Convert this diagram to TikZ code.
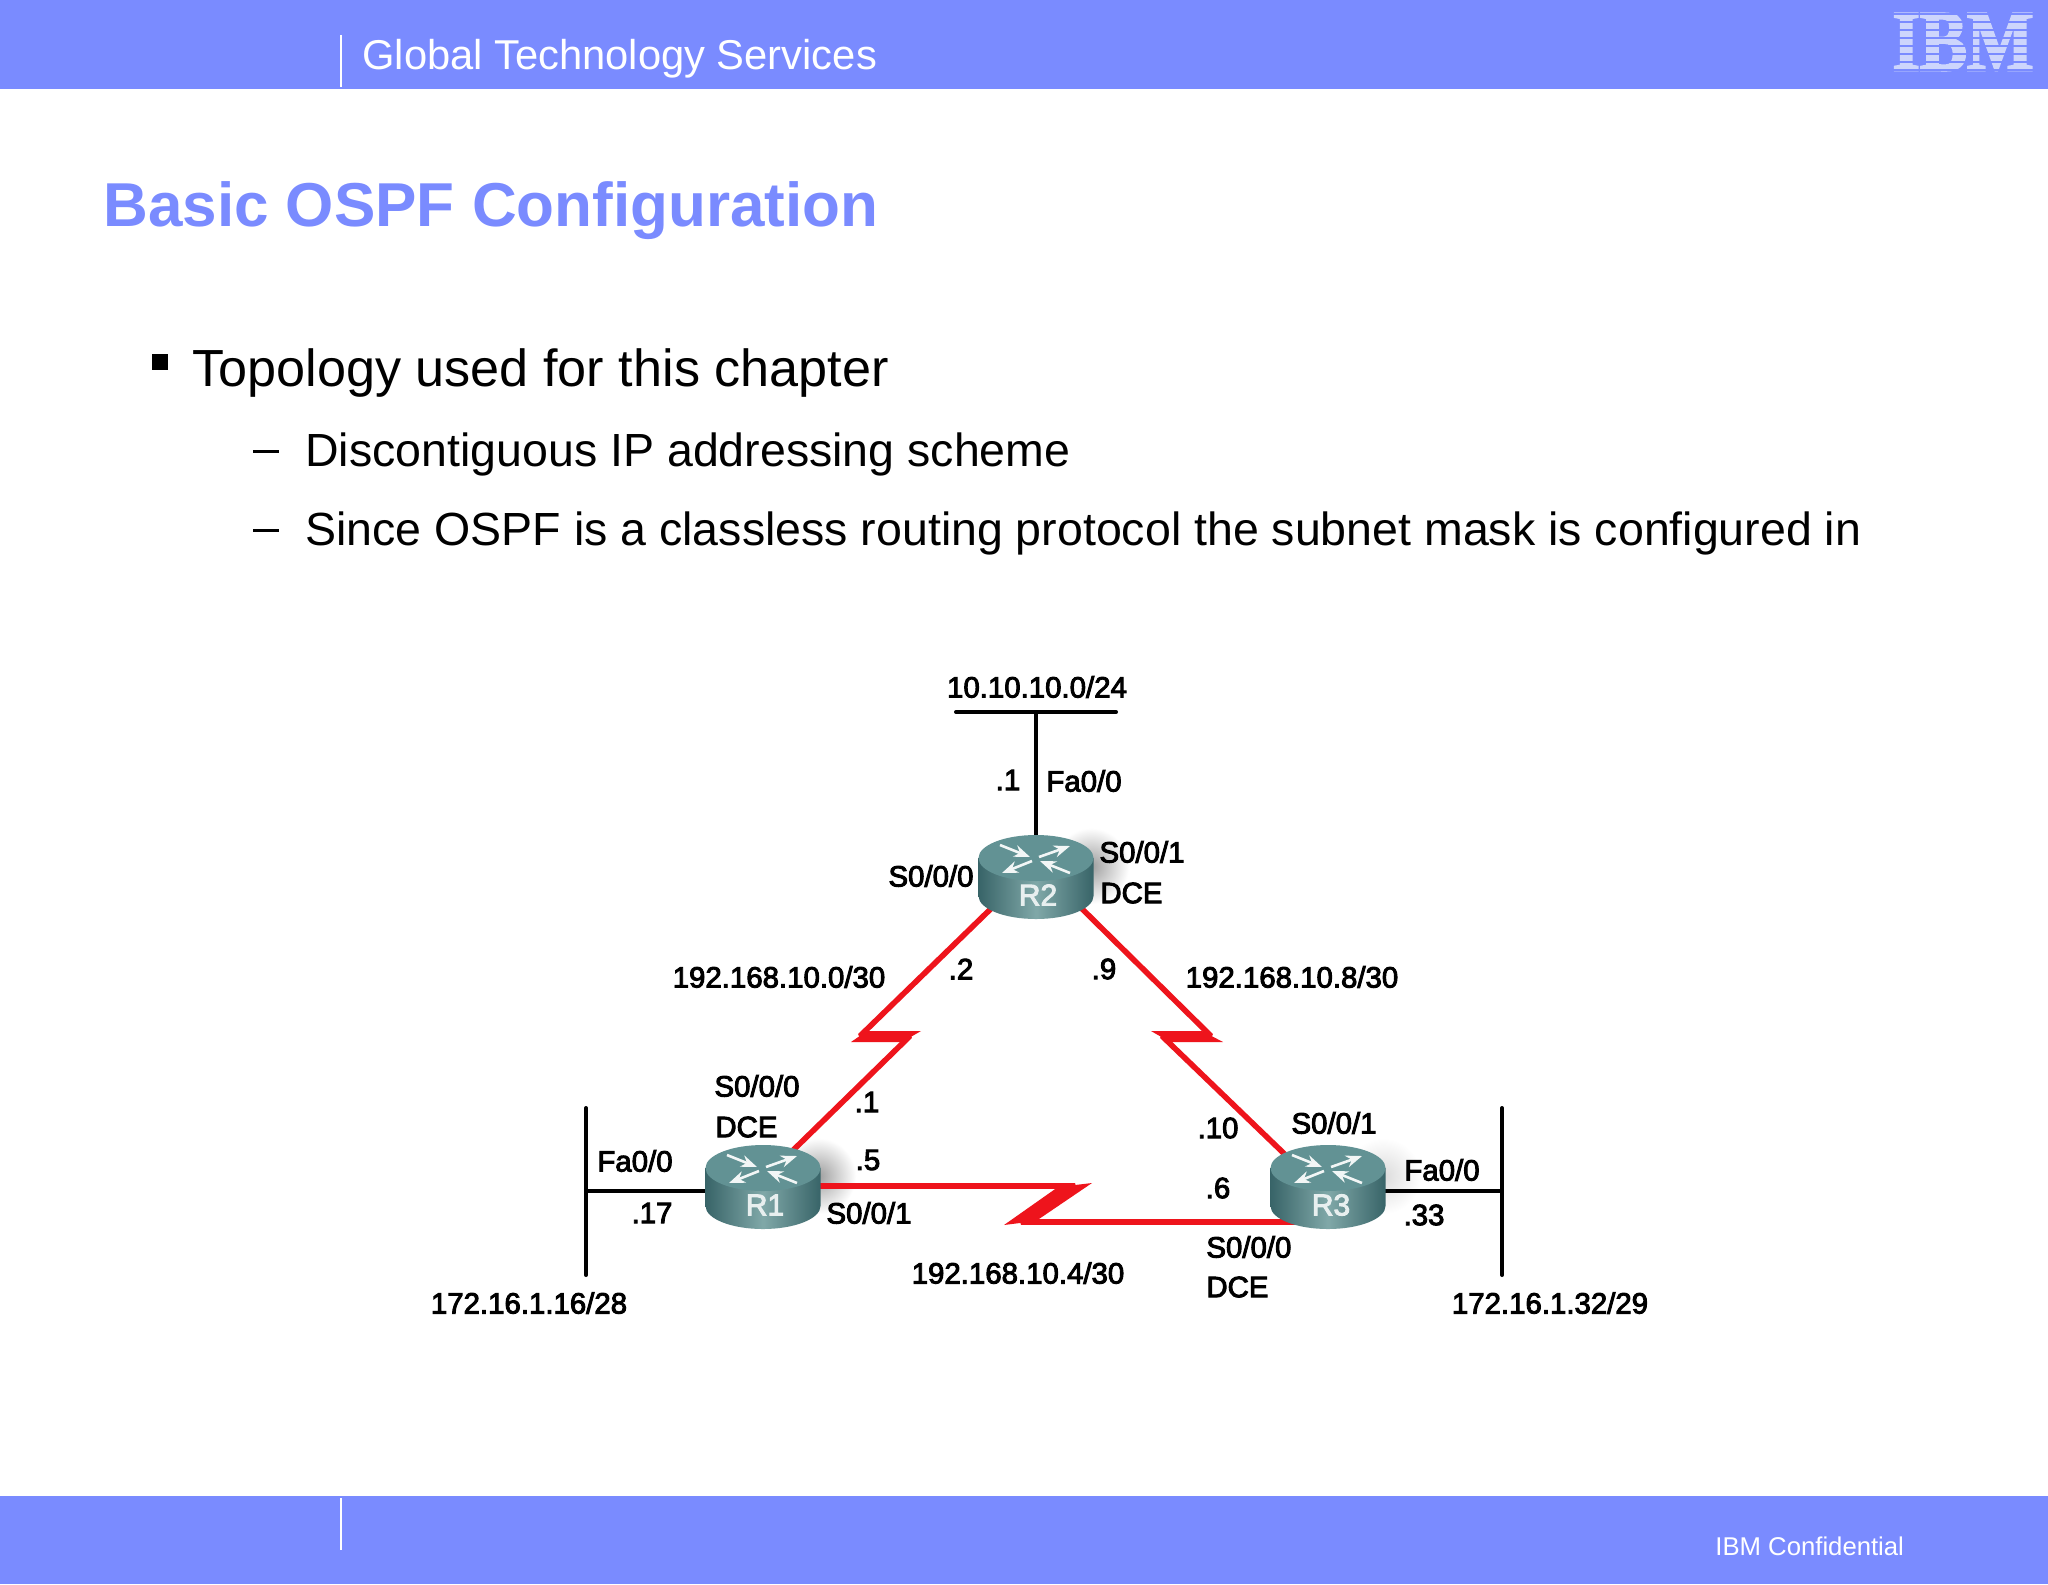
\documentclass[tikz,border=0pt]{standalone}
\usepackage{fontspec}
\setmainfont{Liberation Sans}
\newfontfamily\netfont[FakeBold=3.2]{Liberation Sans}
\newfontfamily\logofont[UprightFont=* Bold,FakeBold=3]{Liberation Serif}
\usetikzlibrary{positioning,arrows.meta}
\definecolor{bandblue}{RGB}{122,139,255}
\definecolor{logoblue}{RGB}{205,213,252}
\definecolor{routertop}{RGB}{98,146,148}
\definecolor{routerdark}{RGB}{56,100,104}
\definecolor{routermid}{RGB}{128,168,168}
\definecolor{linkred}{RGB}{238,20,28}
\tikzset{
  x=0.5pt,y=-0.5pt,
  band/.style={fill=bandblue,draw=none},
  bandrule/.style={draw=white,line width=0.9pt},
  bodytext/.style={inner sep=0,anchor=base west,text=black},
  netlabel/.style={inner sep=0,font=\netfont\fontsize{14.7}{16}\selectfont,text=black},
  netleft/.style={netlabel,anchor=west},
  routername/.style={inner sep=0,text=white!85!routertop,font=\netfont\fontsize{15}{16}\selectfont},
  lanlink/.style={draw=black,line width=2.3pt},
  buswire/.style={draw=black,line width=2pt,line cap=round},
  seriallink/.style={draw=linkred,line width=2.8pt,line join=bevel},
  boltfill/.style={fill=linkred,draw=none},
  routerarrow/.style={draw=white!92!routertop,line width=1.3pt,-{Stealth[length=8pt,width=6pt]}},
}
% soft shadow beside a router
\newcommand{\routershadow}[3]{%
  \shade[inner color=black!#3,outer color=white,draw=none] (#1+55,#2+8) circle (38);}
% one router, centred on the top of the drum
\newcommand{\routerdrum}[2]{%
  \begin{scope}[shift={(#1,#2)}]
    \shade[left color=routerdark,right color=routerdark,middle color=routermid,draw=none]
      (-57.5,0) -- (-57.5,38) arc (180:0:57.5 and 23) -- (57.5,0) -- cycle;
    \fill[routertop] (0,0) ellipse (57.5 and 23);
    \draw[routerarrow] (-36,-13) -- (-6,-1);
    \draw[routerarrow] (3,-1) -- (34,-12);
    \draw[routerarrow] (-4,3) -- (-34,15);
    \draw[routerarrow] (34,15) -- (4,3);
  \end{scope}}
\begin{document}
\begin{tikzpicture}
  \useasboundingbox (0,0) rectangle (2048,1584);
  \fill[white] (0,0) rectangle (2048,1584);
  % bands
  \fill[band] (0,0) rectangle (2048,89);
  \fill[band] (0,1496) rectangle (2048,1584);
  \draw[bandrule] (341,35) -- (341,87);
  \draw[bandrule] (341,1498) -- (341,1550);
  \node[bodytext,text=white,font=\fontsize{20.85}{24}\selectfont] (header) at (362,69) {Global Technology Services};
  \node[bodytext,text=white,font=\fontsize{12.85}{15}\selectfont] (footer) at (1715,1555) {IBM Confidential};
  \node[inner sep=0,anchor=center,text=logoblue,xscale=0.82,font=\logofont\fontsize{43}{43}\selectfont] (logo) at (1963,42) {IBM};
  \foreach \s in {0,...,8} {
    \fill[bandblue] (1885,13+8*\s) rectangle (2040,15.5+8*\s);
  }
  % slide text
  \node[bodytext,text=bandblue,font=\bfseries\fontsize{31}{36}\selectfont] (title) at (103,226) {Basic OSPF Configuration};
  \fill[black] (152,354) rectangle (168,370);
  \node[bodytext,font=\fontsize{26.1}{30}\selectfont] (topic) at (192,386) {Topology used for this chapter};
  \fill[black] (253,450) rectangle (279,452.5);
  \node[bodytext,font=\fontsize{23.25}{26}\selectfont] (subone) at (305,466) {Discontiguous IP addressing scheme};
  \fill[black] (253,529) rectangle (279,531.5);
  \node[bodytext,font=\fontsize{23.25}{26}\selectfont] (subtwo) at (305,545) {Since OSPF is a classless routing protocol the subnet mask is configured in};
  % network
  \coordinate (R2top) at (1036,850);
  \coordinate (R2left) at (1005,895);
  \coordinate (R2right) at (1068,895);
  \coordinate (R1corner) at (780,1163);
  \coordinate (R1east) at (800,1186);
  \coordinate (R1west) at (720,1191);
  \coordinate (R3corner) at (1298,1167);
  \coordinate (R3south) at (1310,1222);
  \coordinate (R3east) at (1370,1191);
  \coordinate (busTopA) at (956,712);
  \coordinate (busTopB) at (1116,712);
  \coordinate (busTopM) at (1036,712);
  \coordinate (busLeftA) at (586,1108);
  \coordinate (busLeftB) at (586,1275);
  \coordinate (busLeftM) at (586,1191);
  \coordinate (busRightA) at (1502,1108);
  \coordinate (busRightB) at (1502,1275);
  \coordinate (busRightM) at (1502,1191);
  \routershadow{1036}{858}{38}
  \routershadow{763}{1168}{38}
  \routershadow{1328}{1168}{14}
  \draw[buswire] (busTopA) -- (busTopB);
  \draw[buswire] (busLeftA) -- (busLeftB);
  \draw[buswire] (busRightA) -- (busRightB);
  \draw[lanlink] (busTopM) -- (R2top);
  \draw[lanlink] (busLeftM) -- (R1west);
  \draw[lanlink] (busRightM) -- (R3east);
  % serial links with their bolts
  \draw[seriallink] (R2left) -- (860,1036) -- (910,1036) -- (R1corner);
  \fill[boltfill] (851,1042) -- (867,1031) -- (921,1031) -- (902,1042) -- cycle;
  \draw[seriallink] (R2right) -- (1211,1036) -- (1162,1036) -- (R3corner);
  \fill[boltfill] (1151,1031) -- (1202,1031) -- (1223,1042) -- (1170,1042) -- cycle;
  \draw[seriallink] (R1east) -- (1075,1186) -- (1021,1222) -- (R3south);
  \fill[boltfill] (1092,1183) -- (1036,1221) -- (1004,1225) -- (1058,1187) -- cycle;
  \routerdrum{1036}{858}
  \routerdrum{763}{1168}
  \routerdrum{1328}{1168}
  % labels
  \node[routername] (nameR2) at (1038,895) {R2};
  \node[routername] (nameR1) at (765,1205) {R1};
  \node[routername] (nameR3) at (1331,1205) {R3};
  \node[netlabel] (netTop) at (1037,687) {10.10.10.0/24};
  \node[netlabel] (netA) at (779,977) {192.168.10.0/30};
  \node[netlabel] (netB) at (1292,977) {192.168.10.8/30};
  \node[netlabel] (netC) at (1018,1273) {192.168.10.4/30};
  \node[netlabel] (netLeft) at (529,1303) {172.16.1.16/28};
  \node[netlabel] (netRight) at (1550,1303) {172.16.1.32/29};
  \node[netlabel] (r2host) at (1008,780) {.1};
  \node[netlabel] (r2fa) at (1084,781) {Fa0/0};
  \node[netlabel] (r2szero) at (931,876) {S0/0/0};
  \node[netlabel] (r2sone) at (1142,852) {S0/0/1};
  \node[netleft] (r2dce) at (1100,893) {DCE};
  \node[netlabel] (r2two) at (961,969) {.2};
  \node[netlabel] (r2nine) at (1104,969) {.9};
  \node[netlabel] (r1szero) at (757,1086) {S0/0/0};
  \node[netleft] (r1dce) at (715,1127) {DCE};
  \node[netlabel] (r1fa) at (635,1161) {Fa0/0};
  \node[netlabel] (r1host) at (652,1213) {.17};
  \node[netlabel] (r1one) at (867,1102) {.1};
  \node[netlabel] (r1five) at (868,1160) {.5};
  \node[netlabel] (r1sone) at (869,1213) {S0/0/1};
  \node[netlabel] (r3ten) at (1218,1128) {.10};
  \node[netlabel] (r3six) at (1218,1188) {.6};
  \node[netlabel] (r3sone) at (1334,1123) {S0/0/1};
  \node[netlabel] (r3fa) at (1442,1170) {Fa0/0};
  \node[netlabel] (r3host) at (1424,1215) {.33};
  \node[netleft] (r3szero) at (1206,1247) {S0/0/0};
  \node[netleft] (r3dce) at (1206,1287) {DCE};
\end{tikzpicture}
\end{document}
